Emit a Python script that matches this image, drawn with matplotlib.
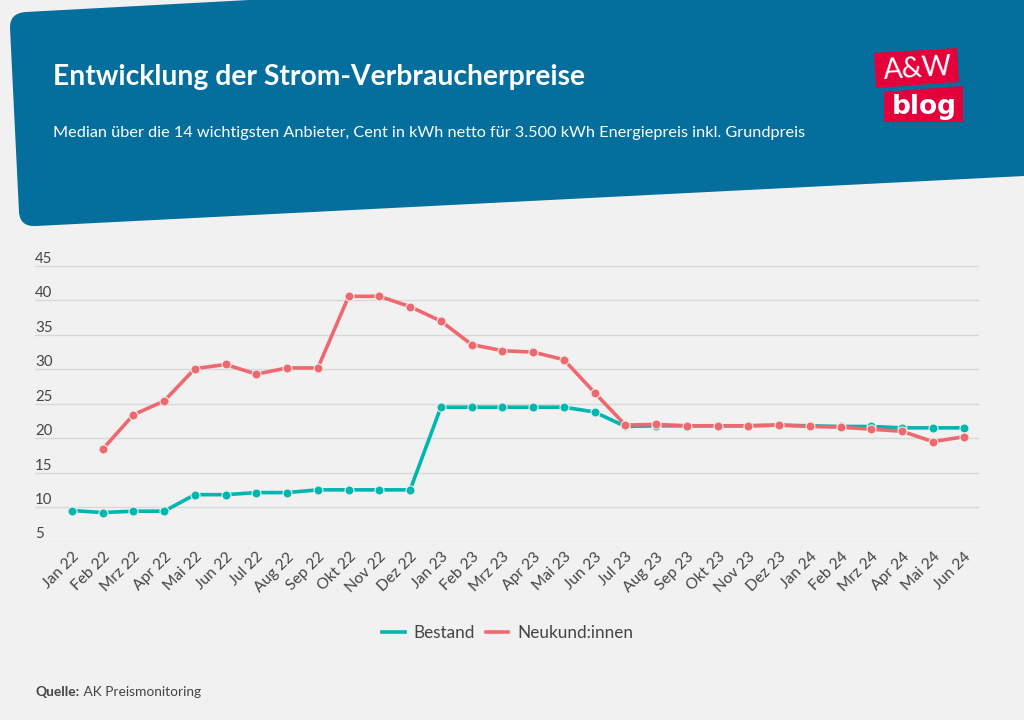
import matplotlib
matplotlib.use("Agg")
import matplotlib.pyplot as plt
from matplotlib.lines import Line2D
from matplotlib.patches import PathPatch, Polygon
from matplotlib.path import Path

WIDTH, HEIGHT = 1024, 720
BG_COLOR = "#f1f1f1"
HEADER_COLOR = "#046e9c"
LOGO_COLOR = "#e4003a"
TEAL = "#00b6b0"
RED = "#f0686f"
TEXT_COLOR = "#444444"
FONT = ["Lato", "DejaVu Sans"]

MONTHS = [
    "Jan 22", "Feb 22", "Mrz 22", "Apr 22", "Mai 22", "Jun 22", "Jul 22", "Aug 22",
    "Sep 22", "Okt 22", "Nov 22", "Dez 22", "Jan 23", "Feb 23", "Mrz 23", "Apr 23",
    "Mai 23", "Jun 23", "Jul 23", "Aug 23", "Sep 23", "Okt 23", "Nov 23", "Dez 23",
    "Jan 24", "Feb 24", "Mrz 24", "Apr 24", "Mai 24", "Jun 24",
]
BESTAND = [
    9.5, 9.2, 9.4, 9.4, 11.8, 11.8, 12.1, 12.1, 12.5, 12.5, 12.5, 12.5, 24.5, 24.5, 24.5,
    24.5, 24.5, 23.8, 21.7, 21.8, 21.8, 21.8, 21.8, 21.9, 21.8, 21.7, 21.7, 21.5, 21.5, 21.5,
]
NEUKUNDEN = [
    None, 18.4, 23.4, 25.4, 30.1, 30.7, 29.3, 30.2, 30.2, 40.6, 40.6, 39.1, 37.0, 33.6, 32.7,
    32.5, 31.4, 26.6, 21.9, 22.0, 21.8, 21.8, 21.8, 21.9, 21.7, 21.6, 21.3, 21.0, 19.5, 20.2,
]
Y_TICKS = [5, 10, 15, 20, 25, 30, 35, 40, 45]

TITLE = "Entwicklung der Strom-Verbraucherpreise"
SUBTITLE = "Median über die 14 wichtigsten Anbieter, Cent in kWh netto für 3.500 kWh Energiepreis inkl. Grundpreis"

plt.rcParams["font.family"] = FONT

fig = plt.figure(figsize=(WIDTH / 100, HEIGHT / 100), dpi=100, facecolor=BG_COLOR)

# overlay in pixel coordinates for the header band, logo and source line
overlay = fig.add_axes([0, 0, 1, 1], zorder=3)
overlay.set_xlim(0, WIDTH)
overlay.set_ylim(HEIGHT, 0)
overlay.axis("off")

header = Path(
    [
        (26, 12), (1030, -42), (1030, 175.7), (36, 226), (20, 227), (19, 212),
        (10, 28), (9.5, 13), (26, 12), (26, 12),
    ],
    [
        Path.MOVETO, Path.LINETO, Path.LINETO, Path.LINETO, Path.CURVE3, Path.CURVE3,
        Path.LINETO, Path.CURVE3, Path.CURVE3, Path.CLOSEPOLY,
    ],
)
overlay.add_patch(PathPatch(header, facecolor=HEADER_COLOR, edgecolor="none"))
overlay.text(53, 85, TITLE, color="white", fontsize=20.3, fontweight="bold", va="baseline", ha="left")
overlay.text(53, 137.5, SUBTITLE, color="white", fontsize=11.7, va="baseline", ha="left")

overlay.add_patch(Polygon([(874, 53), (957, 48), (959, 82), (876, 88)], facecolor=LOGO_COLOR))
overlay.add_patch(Polygon([(884, 92), (963, 86), (963, 122), (884, 122)], facecolor=LOGO_COLOR))
overlay.text(918, 69, "A&W", color="white", fontsize=20.5, rotation=3.5, ha="center", va="center")
overlay.text(924.5, 107, "blog", color="white", fontsize=19, fontweight="bold", ha="center", va="center",
             family="DejaVu Sans")

quelle = overlay.text(36, 692, "Quelle:", color=TEXT_COLOR, fontsize=9.9, fontweight="bold", va="center")
overlay.annotate(" AK Preismonitoring", xy=(1, 0.5), xycoords=quelle, color=TEXT_COLOR, fontsize=9.9,
                 va="center", ha="left")

# chart area: gridlines run from x=35 to x=979, y=266 to y=541.5
ax = fig.add_axes([35 / WIDTH, 1 - 541.5 / HEIGHT, 944 / WIDTH, 275.5 / HEIGHT], facecolor="none")
positions = list(range(len(MONTHS)))

ax.plot(positions, BESTAND, color=TEAL, linewidth=2.6, marker="o", markersize=6.5,
        markeredgecolor="#e8f0ea", markeredgewidth=0.8, zorder=3)
neukunden_values = [float("nan") if value is None else value for value in NEUKUNDEN]
ax.plot(positions, neukunden_values, color=RED, linewidth=2.6, marker="o", markersize=6.5,
        markeredgecolor="#efeee6", markeredgewidth=0.8, zorder=4)

ax.set_xlim(-1.2, 29.5)
ax.set_ylim(5, 45)
ax.set_yticks(Y_TICKS)
ax.set_yticklabels([str(t) for t in Y_TICKS])
ax.set_xticks(positions)
ax.set_xticklabels(MONTHS, rotation=45, ha="right", rotation_mode="anchor")
ax.grid(axis="y", color="#d8d8d8", linewidth=1)
ax.set_axisbelow(True)
ax.tick_params(axis="x", length=0, pad=6, labelsize=11.2, labelcolor=TEXT_COLOR)
ax.tick_params(axis="y", length=0, pad=0, labelsize=10.8, labelcolor=TEXT_COLOR)
for label in ax.get_yticklabels():
    label.set_horizontalalignment("left")
    label.set_verticalalignment("bottom")
for spine in ax.spines.values():
    spine.set_visible(False)

handles = [
    Line2D([], [], color=TEAL, linewidth=2.6),
    Line2D([], [], color=RED, linewidth=2.6),
]
fig.legend(handles, ["Bestand", "Neukund:innen"], loc="center", bbox_to_anchor=(508 / WIDTH, 1 - 633 / HEIGHT),
           ncol=2, frameon=False, fontsize=12.3, labelcolor=TEXT_COLOR, handlelength=1.3, handletextpad=0.53,
           columnspacing=0.65)

fig.savefig("out.png", dpi=100, facecolor=BG_COLOR)
